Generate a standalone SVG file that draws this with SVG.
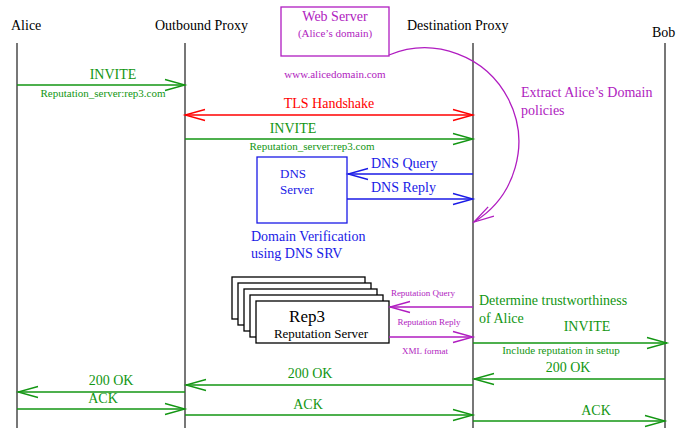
<svg xmlns="http://www.w3.org/2000/svg" width="678" height="428" viewBox="0 0 678 428">
<style>
text{font-family:'Liberation Serif','Times New Roman',serif}
.life{stroke:#555;stroke-width:1.6}
.g{stroke:#129612;stroke-width:1.3;fill:none}
.r{stroke:#ff0000;stroke-width:1.3;fill:none}
.b{stroke:#1a1ae6;stroke-width:1.3;fill:none}
.m{stroke:#b01cc0;stroke-width:1.3;fill:none}
.tg{fill:#129612}
.tr{fill:#ff0000}
.tb{fill:#1a1ae6}
.tm{fill:#b01cc0}
.hd{font-size:14px;fill:#000}
.lbl{font-size:14px}
.sm{font-size:11px}
.xs{font-size:9px}
.box{fill:#fff;stroke:#000;stroke-width:1.3}
</style>
<defs>
<marker id="ag" markerWidth="24" markerHeight="14" refX="21" refY="7" orient="auto-start-reverse" markerUnits="userSpaceOnUse" overflow="visible"><path d="M1,1.5 L21,7 L1,12.5" fill="none" stroke="#129612" stroke-width="1.3"/></marker>
<marker id="ar" markerWidth="24" markerHeight="14" refX="21" refY="7" orient="auto-start-reverse" markerUnits="userSpaceOnUse" overflow="visible"><path d="M1,1.5 L21,7 L1,12.5" fill="none" stroke="#ff0000" stroke-width="1.3"/></marker>
<marker id="ab" markerWidth="24" markerHeight="14" refX="21" refY="7" orient="auto-start-reverse" markerUnits="userSpaceOnUse" overflow="visible"><path d="M1,1.5 L21,7 L1,12.5" fill="none" stroke="#1a1ae6" stroke-width="1.3"/></marker>
<marker id="am" markerWidth="24" markerHeight="14" refX="21" refY="7" orient="auto-start-reverse" markerUnits="userSpaceOnUse" overflow="visible"><path d="M1,1.5 L21,7 L1,12.5" fill="none" stroke="#b01cc0" stroke-width="1.3"/></marker>
</defs>

<g id="alice"><text class="hd" x="11" y="30">Alice</text><line class="life" x1="17" y1="43" x2="17" y2="428"/></g>
<g id="outbound-proxy"><text class="hd" x="155" y="30">Outbound Proxy</text><line class="life" x1="185" y1="43" x2="185" y2="428"/></g>
<g id="destination-proxy"><text class="hd" x="407" y="30">Destination Proxy</text><line class="life" x1="473" y1="43" x2="473" y2="428"/></g>
<g id="bob"><text class="hd" x="652" y="37">Bob</text><line class="life" x1="665" y1="43" x2="665" y2="428"/></g>

<g id="web-server">
<rect x="281" y="7" width="108" height="49" fill="#fff" stroke="#b01cc0" stroke-width="1.3"/>
<text class="tm lbl" x="335" y="21" text-anchor="middle">Web Server</text>
<text class="tm sm" x="335" y="37" text-anchor="middle">(Alice’s domain)</text>
<text class="tm sm" x="335" y="78" text-anchor="middle">www.alicedomain.com</text>
</g>

<g id="dns-server">
<rect x="257" y="157" width="90" height="66" fill="#fff" stroke="#1a1ae6" stroke-width="1.3"/>
<text class="tb" x="280" y="178" font-size="13">DNS</text>
<text class="tb" x="280" y="194" font-size="13">Server</text>
<text class="tb lbl" x="251" y="241">Domain Verification</text>
<text class="tb lbl" x="251" y="258">using DNS SRV</text>
</g>

<g id="rep3">
<rect class="box" x="232" y="277" width="133" height="42"/>
<rect class="box" x="238" y="283" width="133" height="42"/>
<rect class="box" x="244" y="289" width="133" height="42"/>
<rect class="box" x="250" y="295" width="133" height="42"/>
<rect class="box" x="256" y="301" width="133" height="42"/>
<text x="307" y="322" text-anchor="middle" style="font-size:17px;fill:#000">Rep3</text>
<text x="321" y="338" text-anchor="middle" style="font-size:13px;fill:#000">Reputation Server</text>
</g>

<g id="notes">
<text class="tm lbl" x="521" y="97">Extract Alice’s Domain</text>
<text class="tm lbl" x="521" y="115">policies</text>
<text class="tg lbl" x="479" y="305">Determine trustworthiness</text>
<text class="tg lbl" x="479" y="323">of Alice</text>
</g>

<g id="connectors">
<line class="g" x1="17" y1="85" x2="185" y2="85" marker-end="url(#ag)"/>
<text class="tg lbl" x="113" y="79" text-anchor="middle">INVITE</text>
<text class="tg sm" x="103" y="97" text-anchor="middle">Reputation_server:rep3.com</text>

<line class="r" x1="185" y1="115" x2="473" y2="115" marker-start="url(#ar)" marker-end="url(#ar)"/>
<text class="tr lbl" x="329" y="108" text-anchor="middle">TLS Handshake</text>

<line class="g" x1="185" y1="139" x2="473" y2="139" marker-end="url(#ag)"/>
<text class="tg lbl" x="293" y="133" text-anchor="middle">INVITE</text>
<text class="tg sm" x="312" y="150" text-anchor="middle">Reputation_server:rep3.com</text>

<path class="m" d="M389,55 A94,94 0 0 1 474,222" marker-end="url(#am)"/>

<line class="b" x1="473" y1="174" x2="348" y2="174" marker-end="url(#ab)"/>
<text class="tb lbl" x="371" y="168">DNS Query</text>
<line class="b" x1="347" y1="199" x2="473" y2="199" marker-end="url(#ab)"/>
<text class="tb lbl" x="371" y="192">DNS Reply</text>

<line class="m" x1="473" y1="307" x2="390" y2="307" marker-end="url(#am)"/>
<text class="tm xs" x="423" y="296" text-anchor="middle">Reputation Query</text>
<line class="m" x1="389" y1="337" x2="473" y2="337" marker-end="url(#am)"/>
<text class="tm xs" x="429" y="325" text-anchor="middle">Reputation Reply</text>
<text class="tm xs" x="425" y="354" text-anchor="middle">XML format</text>

<line class="g" x1="473" y1="343" x2="667" y2="343" marker-end="url(#ag)"/>
<text class="tg lbl" x="587" y="331" text-anchor="middle">INVITE</text>
<text class="tg sm" x="561" y="354" text-anchor="middle">Include reputation in setup</text>

<line class="g" x1="665" y1="379" x2="474" y2="379" marker-end="url(#ag)"/>
<text class="tg lbl" x="568" y="372" text-anchor="middle">200 OK</text>

<line class="g" x1="473" y1="385" x2="186" y2="385" marker-end="url(#ag)"/>
<text class="tg lbl" x="310" y="378" text-anchor="middle">200 OK</text>

<line class="g" x1="185" y1="392" x2="18" y2="392" marker-end="url(#ag)"/>
<text class="tg lbl" x="111" y="385" text-anchor="middle">200 OK</text>

<line class="g" x1="17" y1="409" x2="185" y2="409" marker-end="url(#ag)"/>
<text class="tg lbl" x="103" y="403" text-anchor="middle">ACK</text>

<line class="g" x1="185" y1="415" x2="473" y2="415" marker-end="url(#ag)"/>
<text class="tg lbl" x="308" y="409" text-anchor="middle">ACK</text>

<line class="g" x1="473" y1="421" x2="665" y2="421" marker-end="url(#ag)"/>
<text class="tg lbl" x="596" y="415" text-anchor="middle">ACK</text>
</g>
</svg>
